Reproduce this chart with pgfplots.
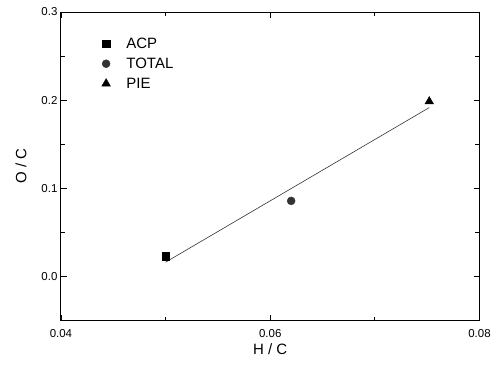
\documentclass[border=0pt]{standalone}
\usepackage{fontspec}
\setmainfont{Liberation Sans}
\usepackage{pgfplots}
\pgfplotsset{compat=1.18}
\definecolor{pt}{HTML}{333333}
\begin{document}
\begin{tikzpicture}
\begin{axis}[
  name=ax,
  scale only axis,
  width=419pt, height=309pt,
  xmin=0.04, xmax=0.08, ymin=-0.05, ymax=0.3,
  xtick={0.04,0.06,0.08}, minor xtick={0.05,0.07},
  ytick={0,0.1,0.2,0.3}, minor ytick={-0.05,0.05,0.15,0.25},
  tick align=inside,
  major tick length=6pt, minor tick length=4pt,
  tick style={black, line width=0.8pt},
  axis line style={line width=0.9pt},
  /pgf/number format/assume math mode=true,
  xticklabel style={yshift=-5pt, font=\fontsize{11.5}{13}\selectfont, /pgf/number format/fixed, /pgf/number format/precision=2, /pgf/number format/fixed zerofill},
  yticklabel style={font=\fontsize{11.5}{13}\selectfont, /pgf/number format/fixed, /pgf/number format/precision=1, /pgf/number format/fixed zerofill},
  scaled ticks=false,
  xlabel={H / C}, ylabel={O / C},
  label style={font=\fontsize{15}{17}\selectfont},
  xlabel style={yshift=1pt},
  ylabel style={yshift=8pt},
  legend style={draw=none, fill=none, at={(rel axis cs:0.09,0.93)}, anchor=north west, font=\fontsize{15}{17}\selectfont, row sep=4pt,
    /tikz/every odd column/.append style={column sep=14pt}},
  legend cell align=left,
  legend image code/.code={\draw[#1] plot coordinates {(0.2cm,0cm)};},
]
\addplot[only marks, mark=square*, mark size=3.6pt, black] coordinates {(0.050,0.0231)};
\addlegendentry{ACP}
\addplot[only marks, mark=*, mark size=4pt, pt, mark options={fill=pt}] coordinates {(0.062,0.0858)};
\addlegendentry{TOTAL}
\addplot[only marks, mark=triangle*, mark size=5pt, black] coordinates {(0.0752,0.1985)};
\addlegendentry{PIE}
\addplot[pt, line width=0.6pt, forget plot] coordinates {(0.050,0.0163) (0.0752,0.1916)};
\end{axis}
\path (ax.south west) ++(-61pt,-44pt) coordinate (bl);
\path (ax.north east) ++(14pt,12pt) coordinate (tr);
\path[use as bounding box] (bl) rectangle (tr);
\end{tikzpicture}
\end{document}
